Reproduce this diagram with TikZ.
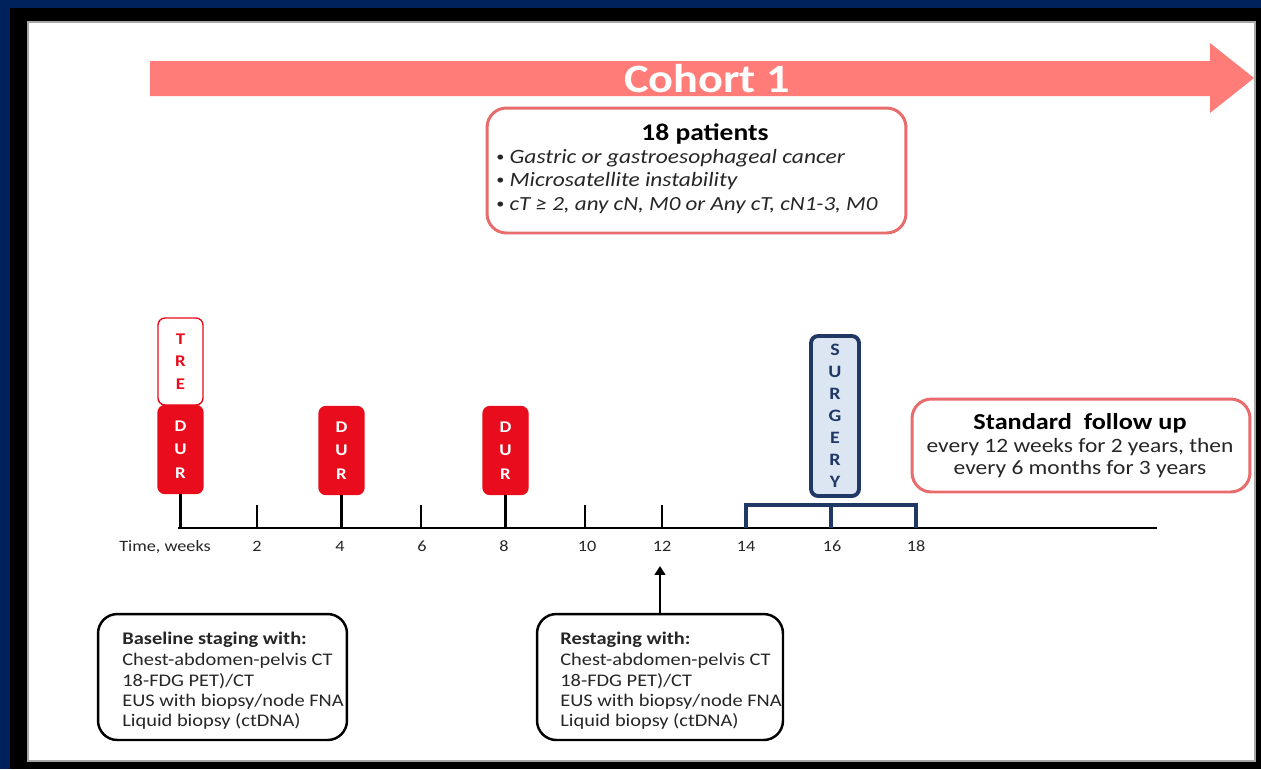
\documentclass[tikz,border=0pt]{standalone}
\usepackage{fontspec}
\setmainfont{Carlito}[FakeStretch=1.15]
\usetikzlibrary{arrows.meta}
\definecolor{navyfr}{RGB}{0,34,92}
\definecolor{salmon}{RGB}{255,124,120}
\definecolor{salbord}{RGB}{232,108,108}
\definecolor{durred}{RGB}{232,12,28}
\definecolor{navy}{RGB}{31,56,100}
\definecolor{surgfill}{RGB}{220,230,242}
\definecolor{txt}{RGB}{38,38,38}
\newcommand{\smbul}{{\fontsize{8}{8}\selectfont\raisebox{0.2ex}{•}}}
\tikzset{
  durbox/.style={draw=durred, fill=durred, rounded corners=4pt, line width=0.8pt,
    minimum width=0.9cm, minimum height=1.76cm, inner sep=0pt, text=white, align=center,
    font=\bfseries\fontsize{9.3}{13.3}\selectfont},
  trebox/.style={draw=durred, fill=white, rounded corners=4pt, line width=0.8pt,
    minimum width=0.9cm, minimum height=1.74cm, inner sep=0pt, text=durred, align=center,
    font=\bfseries\fontsize{9.3}{12.8}\selectfont},
  surgbox/.style={draw=navy, fill=surgfill, rounded corners=4pt, line width=2.2pt,
    minimum width=0.96cm, minimum height=3.2cm, inner sep=0pt, text=navy, align=center,
    font=\bfseries\fontsize{9.9}{12.5}\selectfont},
  salbox/.style={draw=salbord, fill=white, rounded corners=11pt, line width=1.7pt, inner sep=0pt},
  blkbox/.style={draw=black, fill=white, rounded corners=11pt, line width=1.4pt, inner sep=0pt},
  boxtxt/.style={anchor=base west, inner sep=0pt, text=txt, font=\fontsize{10.1}{11.6}\selectfont},
  ticklab/.style={anchor=base, inner sep=0pt, text=txt, font=\fontsize{9}{10}\selectfont},
  axisline/.style={line width=1.4pt, black},
  bracket/.style={line width=2pt, navy},
}
\begin{document}
\begin{tikzpicture}[x=0.02cm, y=-0.02cm]
\useasboundingbox (0,0) rectangle (1261,769);
% frame
\fill[navyfr] (0,0) rectangle (1261,769);
\fill[black] (10,8) rectangle (1261,769);
\fill[gray!70] (27,21) rectangle (1256,762);
\fill[white] (29,23) rectangle (1254,760);

% cohort arrow
\fill[salmon] (150,61) -- (1210,61) -- (1210,43) -- (1254,78) -- (1210,113) -- (1210,96) -- (150,96) -- cycle;
\node[inner sep=0pt, text=white, font=\bfseries\fontsize{22.9}{26}\selectfont] (cohort) at (707,79) {Cohort 1};

% patients box
\node[salbox, minimum width=8.38cm, minimum height=2.5cm] (patients) at (696.5,170.5) {};
\node[anchor=base, inner sep=0pt, text=black, font=\bfseries\fontsize{13.6}{15}\selectfont] (pt0) at (705,140) {18 patients};
\node[boxtxt, font=\fontsize{11.6}{12}\selectfont] (pt1) at (496,163) {\smbul\ \textit{Gastric or gastroesophageal cancer}};
\node[boxtxt, font=\fontsize{11.6}{12}\selectfont] (pt2) at (496,186) {\smbul\ \textit{Microsatellite instability}};
\node[boxtxt, font=\fontsize{11.4}{12}\selectfont] (pt3) at (496,210) {\smbul\ \textit{cT ≥ 2, any cN, M0 or Any cT, cN1-3, M0}};

% axis
\coordinate (t0) at (178,528);
\coordinate (t2) at (257,528);
\coordinate (t4) at (340,528);
\coordinate (t6) at (421,528);
\coordinate (t8) at (504,528);
\coordinate (t10) at (585,528);
\coordinate (t12) at (662,528);
\coordinate (t14) at (746,528);
\coordinate (t16) at (831,528);
\coordinate (t18) at (916,528);
\coordinate (tend) at (1157,528);
\draw[axisline] (t0) -- (tend);
\foreach \t in {t2,t6,t10,t12} \draw[axisline] (\t) -- ++(0,-23);

% tick labels
\node[ticklab] (lt) at (165,551) {Time, weeks};
\node[ticklab] (l2) at (257,551) {2};
\node[ticklab] (l4) at (340,551) {4};
\node[ticklab] (l6) at (422,551) {6};
\node[ticklab] (l8) at (504,551) {8};
\node[ticklab] (l10) at (587,551) {10};
\node[ticklab] (l12) at (662,551) {12};
\node[ticklab] (l14) at (746,551) {14};
\node[ticklab] (l16) at (832,551) {16};
\node[ticklab] (l18) at (916,551) {18};

% treatment boxes
\node[trebox] (tre) at (180.5,361.5) {T\\R\\E};
\node[durbox] (dur1) at (180.5,449.5) {D\\U\\R};
\node[durbox] (dur2) at (341.5,450.5) {D\\U\\R};
\node[durbox] (dur3) at (505.5,450.5) {D\\U\\R};
\draw[axisline] (dur1.south) -- (dur1.south |- t0);
\draw[axisline] (dur2.south) -- (dur2.south |- t4);
\draw[axisline] (dur3.south) -- (dur3.south |- t8);

% surgery
\node[surgbox] (surgery) at (835,416) {S\\U\\R\\G\\E\\R\\Y};
\draw[bracket] (t14) -- ++(0,-23) -| (t18);
\draw[bracket] (t16) -- ++(0,-23);

% follow-up
\node[salbox, minimum width=6.76cm, minimum height=1.86cm] (followup) at (1081,445.5) {};
\node[anchor=base, inner sep=0pt, text=black, font=\bfseries\fontsize{13}{14}\selectfont] (fu0) at (1080,429) {Standard~ follow up};
\node[anchor=base, inner sep=0pt, text=txt, font=\fontsize{11.6}{12}\selectfont] (fu1) at (1080,452) {every 12 weeks for 2 years, then};
\node[anchor=base, inner sep=0pt, text=txt, font=\fontsize{11.6}{12}\selectfont] (fu2) at (1080,474) {every 6 months for 3 years};

% baseline box
\node[blkbox, minimum width=4.98cm, minimum height=2.52cm] (baseline) at (222.5,677) {};
\node[boxtxt, font=\bfseries\fontsize{10.1}{11.6}\selectfont] (b0) at (122,644) {Baseline staging with:};
\node[boxtxt] (b1) at (122,665) {Chest-abdomen-pelvis CT};
\node[boxtxt] (b2) at (122,686) {18-FDG PET)/CT};
\node[boxtxt] (b3) at (122,706) {EUS with biopsy/node FNA};
\node[boxtxt] (b4) at (122,726) {Liquid biopsy (ctDNA)};

% restaging box
\node[blkbox, minimum width=4.92cm, minimum height=2.52cm] (restaging) at (660,677) {};
\node[boxtxt, font=\bfseries\fontsize{10.1}{11.6}\selectfont] (r0) at (560,644) {Restaging with:};
\node[boxtxt] (r1) at (560,665) {Chest-abdomen-pelvis CT};
\node[boxtxt] (r2) at (560,686) {18-FDG PET)/CT};
\node[boxtxt] (r3) at (560,706) {EUS with biopsy/node FNA};
\node[boxtxt] (r4) at (560,726) {Liquid biopsy (ctDNA)};
\coordinate (up) at (660,566);
\draw[line width=1.2pt, -{Triangle[length=5pt, width=6pt]}] (restaging.north) -- (up);
\end{tikzpicture}
\end{document}
